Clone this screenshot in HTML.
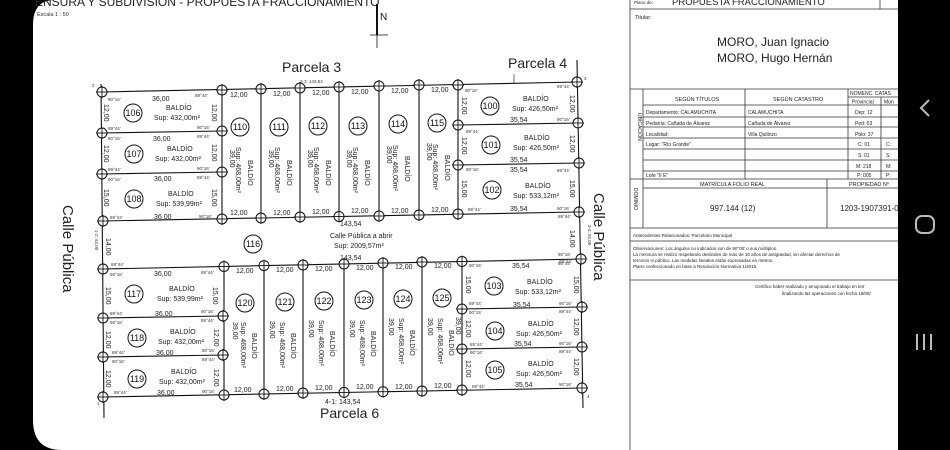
<!DOCTYPE html>
<html><head><meta charset="utf-8"><style>
html,body{margin:0;padding:0;background:#000;}
svg{display:block;font-family:"Liberation Sans",sans-serif;}
.s{font-size:7px;fill:#222}
.a{font-size:4.5px;fill:#333}
.n{font-size:9px;fill:#111}
.b{font-size:7px;fill:#222}
</style></head><body>
<svg width="950" height="450" viewBox="0 0 950 450" xmlns="http://www.w3.org/2000/svg">
<defs>
<g id="v"><circle r="5" fill="#fff" stroke="#111" stroke-width="1"/><line x1="-6" y1="0" x2="6" y2="0" stroke="#111" stroke-width="0.9"/><line x1="0" y1="-6" x2="0" y2="6" stroke="#111" stroke-width="0.9"/></g>
</defs>
<rect width="950" height="450" fill="#000"/>
<path d="M33,25 Q33,0 55,0 H898 V450 H62 Q33,450 33,420 Z" fill="#fff"/>

<!-- header -->
<text x="35" y="6" font-size="12" fill="#222">ENSURA Y SUBDIVISION - PROPUESTA FRACCIONAMIENTO</text>
<text x="37" y="16" font-size="5.5" fill="#333">Escala 1 : 50</text>
<line x1="377" y1="4" x2="377" y2="35" stroke="#111" stroke-width="2"/>
<line x1="377" y1="35" x2="377" y2="48" stroke="#111" stroke-width="0.8"/>
<line x1="370" y1="35" x2="388" y2="35" stroke="#111" stroke-width="0.8"/>
<text x="380" y="20" font-size="10" fill="#111">N</text>
<text x="282" y="72" font-size="14" fill="#222">Parcela 3</text>
<text x="508" y="68" font-size="14" fill="#222">Parcela 4</text>
<line x1="514" y1="74" x2="514" y2="84" stroke="#333" stroke-width="0.7"/>
<text x="320" y="418" font-size="14" fill="#222">Parcela 6</text>
<text x="300" y="83" class="a" font-size="6">2-3: 143,54</text>
<text x="325" y="404" class="s">4-1: 143,54</text>
<text x="92" y="87" class="a" font-size="6">2</text>
<text x="584" y="80" class="a" font-size="6">3</text>
<text x="587" y="398" class="a" font-size="6">4</text>
<text x="97" y="405" class="a" font-size="6">1</text>
<text transform="translate(63,205) rotate(90)" font-size="15" fill="#222">Calle Pública</text>
<text transform="translate(594,193) rotate(90)" font-size="15" fill="#222">Calle Pública</text>
<text transform="translate(95,230) rotate(90)" class="a" font-size="5.5">1-2: 92,00</text>
<text transform="translate(588,225) rotate(90)" class="a" font-size="5.5">3-4: 92,00</text>
<text transform="translate(106,238) rotate(90)" class="s">14,00</text>
<text transform="translate(570,230) rotate(90)" class="s">14,00</text>
<text x="340" y="226" class="s">143,54</text>
<text x="340" y="260" class="s">143,54</text>
<text x="330" y="238" class="b" font-size="6.5">Calle Pública a abrir</text>
<text x="334" y="248" class="b" font-size="6.5">Sup: 2009,57m²</text>
<circle cx="253" cy="244" r="9" fill="none" stroke="#111"/><text x="253" y="247" class="n" text-anchor="middle">116</text>

<!-- lines -->
<g stroke="#111" stroke-width="1.1" fill="none">
<line x1="101" y1="84" x2="104" y2="418"/>
<line x1="577" y1="60" x2="583" y2="408"/>
<line x1="102" y1="92" x2="577" y2="82"/>
<line x1="102" y1="221" x2="577" y2="212"/>
<line x1="102" y1="133" x2="222" y2="131"/>
<line x1="102" y1="174" x2="222" y2="172"/>
<line x1="222" y1="89.5" x2="222" y2="218.7"/>
<line x1="261" y1="88.7" x2="261" y2="218"/>
<line x1="300" y1="87.8" x2="300" y2="217.2"/>
<line x1="339" y1="87" x2="339" y2="216.5"/>
<line x1="379" y1="86.2" x2="379" y2="215.7"/>
<line x1="419" y1="85.3" x2="419" y2="215"/>
<line x1="458" y1="84.5" x2="458" y2="214.2"/>
<line x1="458" y1="125" x2="578" y2="123"/>
<line x1="458" y1="165" x2="579" y2="163"/>
<line x1="103" y1="269" x2="582" y2="259"/>
<line x1="103" y1="397" x2="582" y2="388"/>
<line x1="103" y1="318" x2="223" y2="316"/>
<line x1="103" y1="357" x2="223" y2="355"/>
<line x1="224" y1="266.5" x2="224" y2="394.7"/>
<line x1="264" y1="265.6" x2="264" y2="393.9"/>
<line x1="303" y1="264.8" x2="303" y2="393.2"/>
<line x1="344" y1="264" x2="344" y2="392.4"/>
<line x1="383" y1="263.1" x2="383" y2="391.7"/>
<line x1="422" y1="262.3" x2="422" y2="390.9"/>
<line x1="462" y1="261.5" x2="462" y2="390.2"/>
<line x1="462" y1="309" x2="582" y2="307"/>
<line x1="462" y1="349" x2="582" y2="347"/>
</g>
<!-- vertices -->
<g>
<use href="#v" x="102" y="92"/><use href="#v" x="102" y="133"/><use href="#v" x="102" y="174"/><use href="#v" x="103" y="221"/>
<use href="#v" x="222" y="90"/><use href="#v" x="222" y="131"/><use href="#v" x="222" y="172"/><use href="#v" x="222" y="219"/>
<use href="#v" x="261" y="89"/><use href="#v" x="300" y="88"/><use href="#v" x="339" y="87"/><use href="#v" x="379" y="86"/><use href="#v" x="419" y="85"/><use href="#v" x="458" y="85"/>
<use href="#v" x="261" y="218"/><use href="#v" x="300" y="217"/><use href="#v" x="339" y="216.5"/><use href="#v" x="379" y="216"/><use href="#v" x="419" y="215"/><use href="#v" x="458" y="214"/>
<use href="#v" x="458" y="125"/><use href="#v" x="458" y="165"/><use href="#v" x="577" y="82"/><use href="#v" x="578" y="123"/><use href="#v" x="579" y="163"/><use href="#v" x="579" y="212"/>
<use href="#v" x="103" y="269"/><use href="#v" x="103" y="318"/><use href="#v" x="103" y="357"/><use href="#v" x="103" y="397"/>
<use href="#v" x="224" y="266.5"/><use href="#v" x="223" y="316"/><use href="#v" x="223" y="355"/><use href="#v" x="224" y="395"/>
<use href="#v" x="264" y="265.6"/><use href="#v" x="303" y="265"/><use href="#v" x="344" y="264"/><use href="#v" x="383" y="263"/><use href="#v" x="422" y="262"/><use href="#v" x="462" y="261.5"/>
<use href="#v" x="264" y="394"/><use href="#v" x="303" y="393"/><use href="#v" x="344" y="392.4"/><use href="#v" x="383" y="391.7"/><use href="#v" x="422" y="391"/><use href="#v" x="462" y="390"/>
<use href="#v" x="462" y="309"/><use href="#v" x="462" y="349"/><use href="#v" x="581" y="259"/><use href="#v" x="582" y="307"/><use href="#v" x="582" y="347"/><use href="#v" x="582" y="388"/>
</g>

<!-- left top lots -->
<g>
<circle cx="133" cy="113" r="9" fill="none" stroke="#111"/><text x="133" y="116" class="n" text-anchor="middle">106</text>
<text x="166" y="110" class="b">BALDÍO</text><text x="154" y="120" class="b">Sup: 432,00m²</text>
<circle cx="134" cy="154" r="9" fill="none" stroke="#111"/><text x="134" y="157" class="n" text-anchor="middle">107</text>
<text x="167" y="151" class="b">BALDÍO</text><text x="155" y="161" class="b">Sup: 432,00m²</text>
<circle cx="134" cy="199" r="9" fill="none" stroke="#111"/><text x="134" y="202" class="n" text-anchor="middle">108</text>
<text x="168" y="196" class="b">BALDÍO</text><text x="156" y="206" class="b">Sup: 539,99m²</text>
<text x="152" y="101" class="s">36,00</text><text x="153" y="141" class="s">36,00</text><text x="154" y="181" class="s">36,00</text><text x="154" y="219" class="s">36,00</text>
<text transform="translate(104,104) rotate(90)" class="s">12,00</text><text transform="translate(104,145) rotate(90)" class="s">12,00</text><text transform="translate(104,189) rotate(90)" class="s">15,00</text>
<text transform="translate(212,104) rotate(90)" class="s">12,00</text><text transform="translate(212,144) rotate(90)" class="s">12,00</text><text transform="translate(212,189) rotate(90)" class="s">15,00</text>
<text x="108" y="101" class="a">90°16'</text><text x="195" y="97" class="a">89°44'</text><text x="108" y="130" class="a">89°44'</text><text x="197" y="129" class="a">90°16'</text>
<text x="108" y="140" class="a">90°16'</text><text x="197" y="138" class="a">89°44'</text><text x="108" y="171" class="a">89°44'</text><text x="197" y="170" class="a">90°16'</text>
<text x="108" y="181" class="a">90°16'</text><text x="197" y="179" class="a">89°44'</text><text x="110" y="219" class="a">89°44'</text><text x="199" y="218" class="a">90°16'</text>
</g>
<!-- top columns -->
<g>
<g transform="translate(222,0)"><circle cx="18" cy="127" r="9" fill="none" stroke="#111"/><text x="18" y="130" class="n" text-anchor="middle">110</text>
<text transform="translate(8,150) rotate(90)" class="s">39,00</text><text transform="translate(14,147) rotate(90)" class="b">Sup: 468,00m²</text><text transform="translate(26,160) rotate(90)" class="b">BALDÍO</text>
<text x="8" y="97" class="s">12,00</text><text x="8" y="215" class="s">12,00</text></g>
<g transform="translate(261,0)"><circle cx="18" cy="127" r="9" fill="none" stroke="#111"/><text x="18" y="130" class="n" text-anchor="middle">111</text>
<text transform="translate(8,150) rotate(90)" class="s">39,00</text><text transform="translate(14,147) rotate(90)" class="b">Sup: 468,00m²</text><text transform="translate(26,160) rotate(90)" class="b">BALDÍO</text>
<text x="12" y="96" class="s">12,00</text><text x="12" y="215" class="s">12,00</text></g>
<g transform="translate(300,0)"><circle cx="18" cy="126" r="9" fill="none" stroke="#111"/><text x="18" y="129" class="n" text-anchor="middle">112</text>
<text transform="translate(8,150) rotate(90)" class="s">39,00</text><text transform="translate(14,147) rotate(90)" class="b">Sup: 468,00m²</text><text transform="translate(26,160) rotate(90)" class="b">BALDÍO</text>
<text x="12" y="95" class="s">12,00</text><text x="12" y="214" class="s">12,00</text></g>
<g transform="translate(339,0)"><circle cx="19" cy="126" r="9" fill="none" stroke="#111"/><text x="19" y="129" class="n" text-anchor="middle">113</text>
<text transform="translate(8,150) rotate(90)" class="s">39,00</text><text transform="translate(14,147) rotate(90)" class="b">Sup: 468,00m²</text><text transform="translate(26,160) rotate(90)" class="b">BALDÍO</text>
<text x="12" y="94" class="s">12,00</text><text x="12" y="213" class="s">12,00</text></g>
<g transform="translate(379,0)"><circle cx="19" cy="124" r="9" fill="none" stroke="#111"/><text x="19" y="127" class="n" text-anchor="middle">114</text>
<text transform="translate(8,146) rotate(90)" class="s">39,00</text><text transform="translate(14,145) rotate(90)" class="b">Sup: 468,00m²</text><text transform="translate(26,156) rotate(90)" class="b">BALDÍO</text>
<text x="12" y="93" class="s">12,00</text><text x="12" y="213" class="s">12,00</text></g>
<g transform="translate(419,0)"><circle cx="18" cy="123" r="9" fill="none" stroke="#111"/><text x="18" y="126" class="n" text-anchor="middle">115</text>
<text transform="translate(8,143) rotate(90)" class="s">39,00</text><text transform="translate(14,144) rotate(90)" class="b">Sup: 468,00m²</text><text transform="translate(26,155) rotate(90)" class="b">BALDÍO</text>
<text x="12" y="92" class="s">12,00</text><text x="12" y="212" class="s">12,00</text></g>
</g>
<!-- right top lots -->
<g>
<circle cx="490" cy="106" r="9" fill="none" stroke="#111"/><text x="490" y="109" class="n" text-anchor="middle">100</text>
<text x="523" y="101" class="b">BALDÍO</text><text x="512" y="111" class="b">Sup: 426,50m²</text>
<circle cx="491" cy="145" r="9" fill="none" stroke="#111"/><text x="491" y="148" class="n" text-anchor="middle">101</text>
<text x="524" y="140" class="b">BALDÍO</text><text x="513" y="150" class="b">Sup: 426,50m²</text>
<circle cx="492" cy="190" r="9" fill="none" stroke="#111"/><text x="492" y="193" class="n" text-anchor="middle">102</text>
<text x="525" y="188" class="b">BALDÍO</text><text x="513" y="198" class="b">Sup: 533,12m²</text>
<text x="510" y="122" class="s">35,54</text><text x="510" y="162" class="s">35,54</text><text x="510" y="172" class="s">35,54</text><text x="510" y="211" class="s">35,54</text>
<text transform="translate(462,97) rotate(90)" class="s">12,00</text><text transform="translate(462,137) rotate(90)" class="s">12,00</text><text transform="translate(462,180) rotate(90)" class="s">15,00</text>
<text transform="translate(570,95) rotate(90)" class="s">12,00</text><text transform="translate(570,135) rotate(90)" class="s">12,00</text><text transform="translate(570,180) rotate(90)" class="s">15,00</text>
<text x="465" y="92" class="a">90°16'</text><text x="557" y="88" class="a">89°44'</text><text x="466" y="133" class="a">89°44'</text><text x="557" y="121" class="a">90°16'</text>
<text x="466" y="171" class="a">90°16'</text><text x="557" y="172" class="a">89°44'</text><text x="468" y="211" class="a">89°44'</text><text x="557" y="210" class="a">90°16'</text>
</g>
<!-- lower left lots -->
<g>
<circle cx="134" cy="294" r="9" fill="none" stroke="#111"/><text x="134" y="297" class="n" text-anchor="middle">117</text>
<text x="169" y="291" class="b">BALDÍO</text><text x="157" y="301" class="b">Sup: 539,99m²</text>
<circle cx="137" cy="338" r="9" fill="none" stroke="#111"/><text x="137" y="341" class="n" text-anchor="middle">118</text>
<text x="170" y="334" class="b">BALDÍO</text><text x="158" y="344" class="b">Sup: 432,00m²</text>
<circle cx="137" cy="379" r="9" fill="none" stroke="#111"/><text x="137" y="382" class="n" text-anchor="middle">119</text>
<text x="171" y="374" class="b">BALDÍO</text><text x="159" y="384" class="b">Sup: 432,00m²</text>
<text x="154" y="276" class="s">36,00</text><text x="155" y="316" class="s">36,00</text><text x="156" y="355" class="s">36,00</text><text x="157" y="395" class="s">36,00</text>
<text transform="translate(106,287) rotate(90)" class="s">15,00</text><text transform="translate(106,331) rotate(90)" class="s">12,00</text><text transform="translate(106,370) rotate(90)" class="s">12,00</text>
<text transform="translate(213,287) rotate(90)" class="s">15,00</text><text transform="translate(214,329) rotate(90)" class="s">12,00</text><text transform="translate(214,369) rotate(90)" class="s">12,00</text>
<text x="111" y="266" class="a">89°44'</text><text x="110" y="276" class="a">90°16'</text><text x="201" y="274" class="a">89°44'</text>
<text x="110" y="315" class="a">89°44'</text><text x="201" y="313" class="a">90°16'</text><text x="110" y="324" class="a">90°16'</text><text x="201" y="322" class="a">89°44'</text>
<text x="112" y="354" class="a">89°44'</text><text x="202" y="352" class="a">90°16'</text><text x="112" y="363" class="a">90°16'</text><text x="202" y="361" class="a">89°44'</text>
<text x="114" y="394" class="a">89°44'</text><text x="202" y="393" class="a">90°16'</text>
</g>
<!-- lower columns -->
<g>
<g transform="translate(224,0)"><circle cx="21" cy="303" r="9" fill="none" stroke="#111"/><text x="21" y="306" class="n" text-anchor="middle">120</text>
<text transform="translate(9,322) rotate(90)" class="s">39,00</text><text transform="translate(17,322) rotate(90)" class="b">Sup: 468,00m²</text><text transform="translate(28,333) rotate(90)" class="b">BALDÍO</text>
<text x="12" y="273" class="s">12,00</text><text x="10" y="392" class="s">12,00</text></g>
<g transform="translate(264,0)"><circle cx="21" cy="302" r="9" fill="none" stroke="#111"/><text x="21" y="305" class="n" text-anchor="middle">121</text>
<text transform="translate(6,321) rotate(90)" class="s">39,00</text><text transform="translate(16,322) rotate(90)" class="b">Sup: 468,00m²</text><text transform="translate(27,333) rotate(90)" class="b">BALDÍO</text>
<text x="12" y="272" class="s">12,00</text><text x="12" y="391" class="s">12,00</text></g>
<g transform="translate(303,0)"><circle cx="21" cy="301" r="9" fill="none" stroke="#111"/><text x="21" y="304" class="n" text-anchor="middle">122</text>
<text transform="translate(6,320) rotate(90)" class="s">39,00</text><text transform="translate(16,320) rotate(90)" class="b">Sup: 468,00m²</text><text transform="translate(27,331) rotate(90)" class="b">BALDÍO</text>
<text x="12" y="271" class="s">12,00</text><text x="12" y="390" class="s">12,00</text></g>
<g transform="translate(344,0)"><circle cx="20" cy="300" r="9" fill="none" stroke="#111"/><text x="20" y="303" class="n" text-anchor="middle">123</text>
<text transform="translate(6,320) rotate(90)" class="s">39,00</text><text transform="translate(16,320) rotate(90)" class="b">Sup: 468,00m²</text><text transform="translate(27,331) rotate(90)" class="b">BALDÍO</text>
<text x="12" y="270" class="s">12,00</text><text x="12" y="389" class="s">12,00</text></g>
<g transform="translate(383,0)"><circle cx="20" cy="299" r="9" fill="none" stroke="#111"/><text x="20" y="302" class="n" text-anchor="middle">124</text>
<text transform="translate(6,318) rotate(90)" class="s">39,00</text><text transform="translate(16,318) rotate(90)" class="b">Sup: 468,00m²</text><text transform="translate(27,330) rotate(90)" class="b">BALDÍO</text>
<text x="12" y="269" class="s">12,00</text><text x="12" y="389" class="s">12,00</text></g>
<g transform="translate(422,0)"><circle cx="20" cy="298" r="9" fill="none" stroke="#111"/><text x="20" y="301" class="n" text-anchor="middle">125</text>
<text transform="translate(6,318) rotate(90)" class="s">39,00</text><text transform="translate(16,318) rotate(90)" class="b">Sup: 468,00m²</text><text transform="translate(27,330) rotate(90)" class="b">BALDÍO</text>
<text x="12" y="268" class="s">12,00</text><text x="12" y="388" class="s">12,00</text></g>
<text transform="translate(456,317) rotate(90)" class="s">39,00</text>
</g>
<!-- lower right lots -->
<g>
<circle cx="494" cy="286" r="9" fill="none" stroke="#111"/><text x="494" y="289" class="n" text-anchor="middle">103</text>
<text x="527" y="284" class="b">BALDÍO</text><text x="515" y="294" class="b">Sup: 533,12m²</text>
<circle cx="495" cy="331" r="9" fill="none" stroke="#111"/><text x="495" y="334" class="n" text-anchor="middle">104</text>
<text x="528" y="326" class="b">BALDÍO</text><text x="516" y="336" class="b">Sup: 426,50m²</text>
<circle cx="495" cy="370" r="9" fill="none" stroke="#111"/><text x="495" y="373" class="n" text-anchor="middle">105</text>
<text x="528" y="366" class="b">BALDÍO</text><text x="516" y="376" class="b">Sup: 426,50m²</text>
<text x="512" y="268" class="s">35,54</text><text x="513" y="307" class="s">35,54</text><text x="514" y="346" class="s">35,54</text><text x="515" y="387" class="s">35,54</text>
<text transform="translate(466,276) rotate(90)" class="s">15,00</text><text transform="translate(466,320) rotate(90)" class="s">12,00</text><text transform="translate(466,360) rotate(90)" class="s">12,00</text>
<text transform="translate(574,276) rotate(90)" class="s">15,00</text><text transform="translate(574,318) rotate(90)" class="s">12,00</text><text transform="translate(574,358) rotate(90)" class="s">12,00</text>
<text x="469" y="267" class="a">90°16'</text><text x="559" y="263" class="a">89°44'</text><text x="469" y="305" class="a">89°44'</text><text x="559" y="305" class="a">90°16'</text>
<text x="469" y="314" class="a">90°15'</text><text x="559" y="313" class="a">89°44'</text><text x="470" y="346" class="a">89°44'</text><text x="559" y="345" class="a">90°16'</text>
<text x="470" y="354" class="a">90°16'</text><text x="559" y="353" class="a">89°44'</text><text x="472" y="388" class="a">89°44'</text><text x="559" y="386" class="a">90°16'</text>
<text x="558" y="218" class="a">89°44'</text><text x="558" y="256" class="a">90°16'</text><text x="558" y="265" class="a">89°44'</text>
</g>

<!-- right panel -->
<g stroke="#333" stroke-width="0.8" fill="none">
<line x1="630" y1="0" x2="630" y2="450"/>
<line x1="630" y1="9" x2="898" y2="9"/>
<line x1="880" y1="0" x2="880" y2="9"/>
<line x1="630" y1="89" x2="898" y2="89"/>
<line x1="643" y1="89" x2="643" y2="228"/>
<line x1="745" y1="89" x2="745" y2="179"/>
<line x1="848" y1="89" x2="848" y2="179"/>
<line x1="881" y1="97" x2="881" y2="179"/>
<line x1="848" y1="97" x2="898" y2="97"/>
<line x1="643" y1="105" x2="898" y2="105"/>
<line x1="643" y1="117" x2="898" y2="117"/>
<line x1="643" y1="127" x2="898" y2="127"/>
<line x1="643" y1="138" x2="898" y2="138"/>
<line x1="643" y1="149" x2="898" y2="149"/>
<line x1="643" y1="160" x2="898" y2="160"/>
<line x1="643" y1="171" x2="898" y2="171"/>
<line x1="630" y1="179" x2="898" y2="179"/>
<line x1="643" y1="188" x2="898" y2="188"/>
<line x1="827" y1="179" x2="827" y2="228"/>
<line x1="630" y1="228" x2="898" y2="228"/>
<line x1="630" y1="241" x2="898" y2="241"/>
<line x1="630" y1="280" x2="898" y2="280"/>
</g>
<g fill="#222">
<text x="634" y="4" font-size="4.5">Plano de:</text>
<text x="672" y="5" font-size="9.5">PROPUESTA FRACCIONAMIENTO</text>
<text x="635" y="19" font-size="5.5">Titular:</text>
<text x="717" y="46" font-size="12">MORO, Juan Ignacio</text>
<text x="717" y="62" font-size="12">MORO, Hugo Hernán</text>
<text x="675" y="101" font-size="5.5">SEGÚN TÍTULOS</text>
<text x="773" y="101" font-size="5.5">SEGÚN CATASTRO</text>
<text x="850" y="95" font-size="5">NOMENC. CATAS</text>
<text x="852" y="103.5" font-size="5">Provincial</text>
<text x="884" y="103.5" font-size="5">Mun</text>
<text transform="translate(638,113) rotate(90)" font-size="5">UBICACIÓN</text>
<text x="646" y="114" font-size="5">Departamento: CALAMUCHITA</text>
<text x="748" y="114" font-size="5">CALAMUCHITA</text>
<text x="855" y="114" font-size="5">Dep: 12</text>
<text x="646" y="125" font-size="5">Pedanía: Cañada de Álvarez</text>
<text x="748" y="125" font-size="5">Cañada de Álvarez</text>
<text x="855" y="125" font-size="5">Ped: 03</text>
<text x="646" y="136" font-size="5">Localidad:</text>
<text x="748" y="136" font-size="5">Villa Quilinzo</text>
<text x="855" y="136" font-size="5">Pblo: 37</text>
<text x="646" y="146" font-size="5">Lugar: "Río Grande"</text>
<text x="858" y="146" font-size="5">C: 01</text><text x="886" y="146" font-size="5">C:</text>
<text x="858" y="157" font-size="5">S: 01</text><text x="886" y="157" font-size="5">S:</text>
<text x="856" y="168" font-size="5">M: 218</text><text x="886" y="168" font-size="5">M:</text>
<text x="646" y="177" font-size="5">Lote "II E"</text>
<text x="857" y="177" font-size="5">P: 005</text><text x="886" y="177" font-size="5">P:</text>
<text x="700" y="186" font-size="5.5">MATRÍCULA FOLIO REAL</text>
<text x="849" y="186" font-size="5.5">PROPIEDAD Nº</text>
<text transform="translate(634,188) rotate(90)" font-size="5">DOMINIO</text>
<text x="710" y="211" font-size="8">997.144 (12)</text>
<text x="840" y="211" font-size="8">1203-1907391-0</text>
<text x="633" y="237" font-size="4.5">Antecedentes Relacionados: Parcelario Municipal</text>
<text x="633" y="250" font-size="4.5">Observaciones:    Los ángulos no indicados son de 90°00' o sus múltiplos.</text>
<text x="633" y="256" font-size="4.5">La mensura se realizó respetando deslindes de más de 10 años de antigüedad, sin afectar derechos de</text>
<text x="633" y="262" font-size="4.5">terceros ni público. Las medidas lineales están expresadas en metros.</text>
<text x="633" y="268" font-size="4.5">Plano confeccionado en base a Resolución Normativa 1/2015.</text>
<text x="755" y="288" font-size="4.5">Certifico haber realizado y  amojonado el trabajo en terr</text>
<text x="782" y="295" font-size="4.5">finalizando las operaciones con fecha 18/06/</text>
</g>
<rect x="898" y="0" width="52" height="450" fill="#000"/>
<polyline points="929,100 921,108 929,116" fill="none" stroke="#bbb" stroke-width="2"/>
<rect x="916" y="216" width="18" height="17" rx="6" fill="none" stroke="#bbb" stroke-width="2"/>
<g stroke="#bbb" stroke-width="2"><line x1="917" y1="334" x2="917" y2="350"/><line x1="924" y1="334" x2="924" y2="350"/><line x1="931" y1="334" x2="931" y2="350"/></g>
</svg>
</body></html>
